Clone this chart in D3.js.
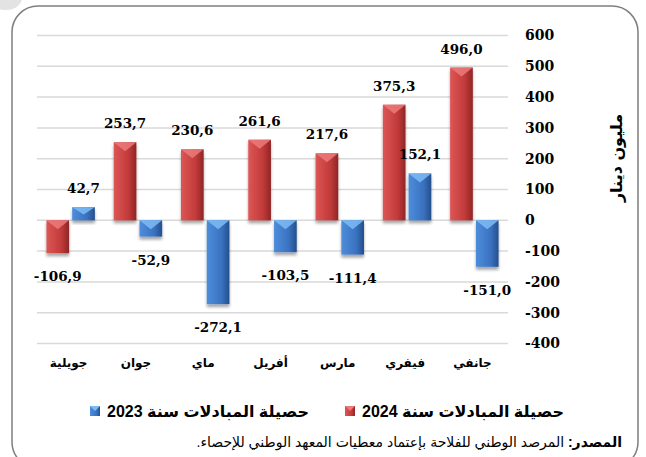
<!DOCTYPE html>
<html lang="ar">
<head>
<meta charset="UTF-8">
<title>حصيلة المبادلات</title>
<script src="https://d3js.org/d3.v7.min.js"></script>
<style>
  body { margin: 0; background: #fff; }
  svg { display: block; }
</style>
</head>
<body>
<div id="chart"></div>
<script>
// data
var months = ["جانفي", "فيفري", "مارس", "أفريل", "ماي", "جوان", "جويلية"];
var values2024 = [496.0, 375.3, 217.6, 261.6, 230.6, 253.7, -106.9];
var values2023 = [-151.0, 152.1, -111.4, -103.5, -272.1, -52.9, 42.7];
var yTicks = [-400, -300, -200, -100, 0, 100, 200, 300, 400, 500, 600];
var seriesKeys = ["2024", "2023"];
var seriesNames = ["حصيلة المبادلات سنة 2024", "حصيلة المبادلات سنة 2023"];
var yTitle = "مليون دينار";
var sourceLabel = "المصدر:";
var sourceText = " المرصد الوطني للفلاحة بإعتماد معطيات المعهد الوطني للإحصاء.";

var width = 646, height = 457;
var svg = d3.select("#chart").append("svg")
    .attr("width", width)
    .attr("height", height);

var defs = svg.append("defs");
var colors = {
    "2024": { light: "#dd5656", mid: "#c23a3a", dark: "#8f2626", tri: "#ec7a7a" },
    "2023": { light: "#4d8ddb", mid: "#3a72c0", dark: "#244f8c", tri: "#7cbcf5" }
};
seriesKeys.forEach(function (k) {
    var g = defs.append("linearGradient").attr("id", "grad" + k)
        .attr("x1", 0).attr("x2", 1).attr("y1", 0).attr("y2", 0);
    g.append("stop").attr("offset", "0%").attr("stop-color", colors[k].light);
    g.append("stop").attr("offset", "65%").attr("stop-color", colors[k].mid);
    g.append("stop").attr("offset", "100%").attr("stop-color", colors[k].dark);
});
var shadow = defs.append("filter").attr("id", "shadow")
    .attr("x", "-30%").attr("y", "-30%").attr("width", "160%").attr("height", "160%");
shadow.append("feDropShadow").attr("dx", 0).attr("dy", 3)
    .attr("stdDeviation", 1.8).attr("flood-color", "#000").attr("flood-opacity", 0.35);

// watermark blob in the corner
svg.append("ellipse").attr("cx", 6).attr("cy", -2).attr("rx", 16).attr("ry", 12)
    .attr("fill", "#e3e3e3");

// outer frame
svg.append("rect")
    .attr("x", 12).attr("y", 6)
    .attr("width", 626).attr("height", 462)
    .attr("rx", 26).attr("ry", 26)
    .attr("fill", "none")
    .attr("stroke", "#7f7f7f")
    .attr("stroke-width", 1.5);

var y = d3.scaleLinear().domain([-400, 600]).range([343.5, 35.5]);
var x0 = d3.scaleBand().domain(months).range([508, 37])
    .paddingInner(0.28).paddingOuter(0.14);
var x1 = d3.scaleBand().domain(seriesKeys).range([0, x0.bandwidth()])
    .paddingInner(0.12);

// gridlines
svg.append("g").selectAll("line")
    .data(yTicks)
    .join("line")
    .attr("x1", 37).attr("x2", 508)
    .attr("y1", function (d) { return y(d); })
    .attr("y2", function (d) { return y(d); })
    .attr("stroke", "#d9d9d9")
    .attr("stroke-width", 1.5);

// y axis on the right
var yAxis = svg.append("g")
    .attr("transform", "translate(519,0)")
    .call(d3.axisRight(y).tickValues(yTicks).tickSize(0).tickPadding(6)
        .tickFormat(function (d) { return String(d); }));
yAxis.select(".domain").remove();
yAxis.selectAll("text")
    .attr("font-family", "DejaVu Serif")
    .attr("font-weight", "bold")
    .attr("font-size", 14)
    .attr("fill", "#000");

svg.append("text")
    .attr("transform", "translate(622,158) rotate(-90)")
    .attr("text-anchor", "middle")
    .attr("font-family", "DejaVu Sans")
    .attr("font-weight", "bold")
    .attr("font-size", 16)
    .attr("direction", "rtl")
    .text(yTitle);

// bars
var rows = [];
months.forEach(function (m, i) {
    rows.push({ month: m, key: "2024", value: values2024[i] });
    rows.push({ month: m, key: "2023", value: values2023[i] });
});

var bars = svg.append("g").selectAll("g")
    .data(rows)
    .join("g");

bars.append("rect")
    .attr("x", function (d) { return x0(d.month) + x1(d.key); })
    .attr("y", function (d) { return y(Math.max(0, d.value)); })
    .attr("width", x1.bandwidth())
    .attr("height", function (d) { return Math.abs(y(d.value) - y(0)); })
    .attr("fill", function (d) { return "url(#grad" + d.key + ")"; })
    .attr("filter", "url(#shadow)");

// bevel triangle on top of each bar
bars.append("path")
    .attr("d", function (d) {
        var bx = x0(d.month) + x1(d.key), w = x1.bandwidth();
        var top = y(Math.max(0, d.value));
        var h = Math.abs(y(d.value) - y(0));
        var t = Math.min(9, h * 0.55);
        return "M" + bx + "," + top + "L" + (bx + w) + "," + top +
            "L" + (bx + w / 2) + "," + (top + t) + "Z";
    })
    .attr("fill", function (d) { return colors[d.key].tri; })
    .attr("opacity", 0.85);

// value labels, comma decimals and plain hyphen for negatives
function fmt(v) { return v.toFixed(1).replace(".", ","); }
bars.append("text")
    .attr("x", function (d) { return x0(d.month) + x1(d.key) + x1.bandwidth() / 2; })
    .attr("y", function (d) {
        return d.value >= 0 ? y(d.value) - 14 : y(d.value) + 28;
    })
    .attr("text-anchor", "middle")
    .attr("font-family", "DejaVu Serif")
    .attr("font-weight", "bold")
    .attr("font-size", 13.5)
    .text(function (d) { return fmt(d.value); });

// month labels
svg.append("g").selectAll("text")
    .data(months)
    .join("text")
    .attr("x", function (d) { return x0(d) + x0.bandwidth() / 2 - 2; })
    .attr("y", 367)
    .attr("text-anchor", "middle")
    .attr("font-family", "DejaVu Sans")
    .attr("font-weight", "bold")
    .attr("font-size", 12)
    .text(function (d) { return d; });

// legend (2023 on the left, 2024 on the right)
var legendX = { "2023": 90, "2024": 345 };
var legend = svg.append("g").selectAll("g")
    .data(seriesKeys)
    .join("g")
    .attr("transform", function (k) { return "translate(" + legendX[k] + ",406)"; });
legend.append("rect")
    .attr("width", 10).attr("height", 10)
    .attr("fill", function (k) { return "url(#grad" + k + ")"; });
legend.append("path")
    .attr("d", "M0,0L10,0L5,5Z")
    .attr("fill", function (k) { return colors[k].tri; });
legend.append("text")
    .attr("x", 17).attr("y", 11)
    .attr("direction", "rtl")
    .attr("text-anchor", "end")
    .attr("font-family", "Liberation Sans, DejaVu Sans")
    .attr("font-weight", "bold")
    .attr("font-size", 16)
    .text(function (k) { return seriesNames[seriesKeys.indexOf(k)]; });

// source line
var src = svg.append("text")
    .attr("x", 622).attr("y", 447)
    .attr("direction", "rtl")
    .attr("text-anchor", "start")
    .attr("font-family", "Liberation Sans, DejaVu Sans")
    .attr("font-size", 14);
src.append("tspan").attr("font-weight", "bold").text(sourceLabel);
src.append("tspan").text(sourceText);
</script>
</body>
</html>
